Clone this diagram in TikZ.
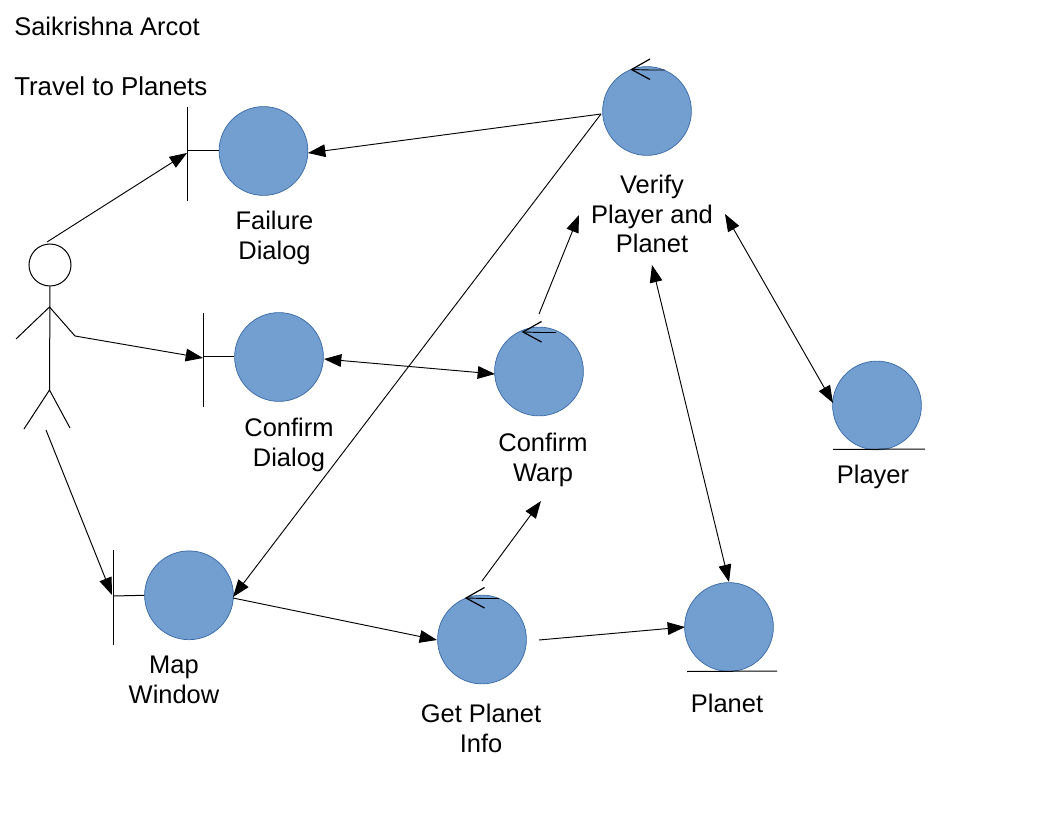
\documentclass[tikz,border=0pt]{standalone}
\usepackage{fontspec}
\setmainfont{Liberation Sans}
\usetikzlibrary{arrows.meta}
\tikzset{
  x=0.75pt,y=-0.75pt,
  ball/.style={circle,draw=ballline,fill=ballfill,line width=0.5pt,minimum size=66.6pt,inner sep=0pt},
  actorline/.style={draw=black,line width=0.75pt},
  link/.style={draw=black,line width=0.7pt,-{Triangle[length=13pt,width=9.5pt]}},
  dlink/.style={draw=black,line width=0.7pt,{Triangle[length=13pt,width=9.5pt]}-{Triangle[length=13pt,width=9.5pt]}},
  lbl/.style={align=center,font=\fontsize{19.1pt}{22pt}\selectfont,inner sep=0pt},
  txt/.style={anchor=base west,font=\fontsize{19.1pt}{22pt}\selectfont,inner sep=0pt},
  ctrl/.style={draw=black,line width=0.9pt},
}
\definecolor{ballfill}{HTML}{729FCF}
\definecolor{ballline}{HTML}{3465A4}
\newcommand{\ctrlmark}[2]{%
  \draw[ctrl] (#1+18.5,#2-10.5) -- (#1,#2) -- (#1+18.5,#2+10);
  \draw[draw=black,line width=0.7pt] (#1,#2) -- (#1+18,#2+0.5) -- (#1+33,#2+0.5);
}
\begin{document}
\begin{tikzpicture}
\useasboundingbox (0,0) rectangle (1056,816);
% nodes
\node[ball] (failure) at (263.5,151) {};
\node[ball] (cdialog) at (279,357) {};
\node[ball] (map) at (189,595.3) {};
\node[ball] (verify) at (647,111) {};
\node[ball] (cwarp) at (539,371.5) {};
\node[ball] (get) at (482,639.5) {};
\node[ball] (planet) at (729,627) {};
\node[ball] (player) at (877,405.5) {};
% texts
\node[txt] (t1) at (14,36) {Saikrishna Arcot};
\node[txt,font=\fontsize{19.4pt}{22pt}\selectfont] (t2) at (14,95.5) {Travel to Planets};
\node[lbl] (lfailure) at (274.5,238) {Failure\\Dialog};
\node[lbl] (lcdialog) at (289,445) {Confirm\\Dialog};
\node[lbl] (lmap) at (174,680) {Map\\Window};
\node[lbl] (lverify) at (652,214) {Verify\\Player and\\Planet};
\node[lbl] (lcwarp) at (543,460) {Confirm\\Warp};
\node[lbl] (lget) at (481,728.5) {Get Planet\\Info};
\node[lbl] (lplanet) at (727,703.5) {Planet};
\node[lbl] (lplayer) at (873,476.5) {Player};
% actor
\node[circle,draw=black,line width=0.75pt,fill=white,minimum size=31.5pt,inner sep=0pt] (head) at (50,265) {};
\coordinate (neck) at (49.5,307);
\coordinate (hip) at (49.5,390);
\coordinate (handl) at (16,339);
\coordinate (handr) at (75,336);
\coordinate (footl) at (24,429);
\coordinate (footr) at (70,428);
\draw[actorline] (head.south) -- (hip);
\draw[actorline] (handl) -- (neck) -- (handr);
\draw[actorline] (footl) -- (hip) -- (footr);
% boundary bars
\coordinate (fa) at (187,107); \coordinate (fb) at (187,201); \coordinate (fc) at (187,151);
\coordinate (ca) at (203,313); \coordinate (cb) at (203,407); \coordinate (cc) at (203,357);
\coordinate (ma) at (113,550); \coordinate (mb) at (113,645); \coordinate (mc) at (113,596);
\draw[actorline] (fa) -- (fb); \draw[actorline] (fc) -- (failure.west);
\draw[actorline] (ca) -- (cb); \draw[actorline] (cc) -- (cdialog.west);
\draw[actorline] (ma) -- (mb); \draw[actorline] (mc) -- (map.west);
% entity underlines
\coordinate (pa) at (833,449.5); \coordinate (pb) at (925,449);
\coordinate (qa) at (687,671.5); \coordinate (qb) at (777,671);
\draw[actorline] (pa) -- (pb);
\draw[actorline] (qa) -- (qb);
% control marks
\ctrlmark{631.5}{69.5}
\ctrlmark{523}{332}
\ctrlmark{466}{598}
% connectors
\coordinate (a1) at (47,242); \coordinate (a1e) at (187,153);
\coordinate (a2e) at (203,358);
\coordinate (a3) at (46,430); \coordinate (a3e) at (112,595);
\coordinate (v1) at (601,114);
\coordinate (f1) at (308,153);
\coordinate (m1) at (233,597);
\coordinate (m2) at (233,598);
\coordinate (g1) at (437,640);
\coordinate (d1) at (324,359);
\coordinate (w1) at (495,374);
\coordinate (w2) at (539,314);
\coordinate (v2) at (579,215);
\coordinate (g2) at (482,581);
\coordinate (w3) at (541,501);
\coordinate (g3) at (539,640);
\coordinate (p1) at (685,627);
\coordinate (v3) at (725,214);
\coordinate (y1) at (833,403);
\coordinate (v4) at (652,265);
\coordinate (p2) at (729,582);
\draw[link] (a1) -- (a1e);
\draw[link] (handr) -- (a2e);
\draw[link] (a3) -- (a3e);
\draw[link] (v1) -- (f1);
\draw[link] (v1) -- (m1);
\draw[link] (m2) -- (g1);
\draw[dlink] (d1) -- (w1);
\draw[link] (w2) -- (v2);
\draw[link] (g2) -- (w3);
\draw[link] (g3) -- (p1);
\draw[dlink] (v3) -- (y1);
\draw[dlink] (v4) -- (p2);
\end{tikzpicture}
\end{document}
